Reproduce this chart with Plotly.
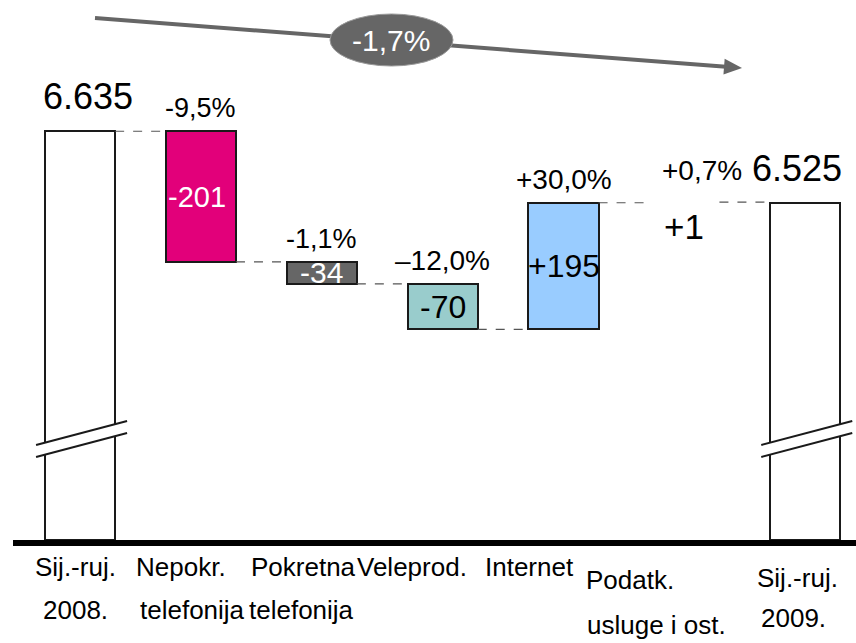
import plotly.graph_objects as go

# ---------------- data ----------------
label_line1 = ["Sij.-ruj.", "Nepokr.", "Pokretna", "Veleprod.", "Internet", "Podatk.", "Sij.-ruj."]
label_line2 = ["2008.", "telefonija", "telefonija", "", "", "usluge i ost.", "2009."]
measures = ["total", "relative", "relative", "relative", "relative", "relative", "total"]
values = [6635, -201, -34, -70, 195, 1, 6525]
value_labels = ["6.635", "-201", "-34", "-70", "+195", "+1", "6.525"]
pct_labels = ["", "-9,5%", "-1,1%", "\u201312,0%", "+30,0%", "+0,7%", ""]
total_change_label = "-1,7%"

# ---------------- style ----------------
FONT = "Liberation Sans, Arial, sans-serif"
bar_colors = ["#FFFFFF", "#E2007A", "#666666", "#99CCCC", "#99CCFF", "rgba(0,0,0,0)", "#FFFFFF"]
bar_line_w = [2, 2, 2, 2, 2, 0, 2]
value_text_colors = ["black", "white", "white", "black", "black", "black", "black"]
value_sizes = [36, 29, 30, 32, 32, 35, 36]
value_dx = [8, -4, 0, 0, 0, 0, -8]
pct_sizes = [27, 27, 27, 28, 28, 28, 27]
W, H = 856, 643
ML, MB = 13, 103
PW, PH = W - ML, H - MB
YMIN, YMAX = 6006, 6837
XMIN, XMAX = -0.555, 6.42
BAR_W = 0.58

def px2x(px):
    return (px - ML) / PW

def px2y(py):
    return 1 - py / PH

# ---------------- compute waterfall ----------------
xs = list(range(len(values)))
bases, heights, levels_after = [], [], []
level = 0
for m, v in zip(measures, values):
    if m == "total":
        bases.append(YMIN)
        heights.append(v - YMIN)
        level = v
    else:
        bases.append(min(level, level + v))
        heights.append(abs(v))
        level = level + v
    levels_after.append(level)

fig = go.Figure()
fig.add_trace(go.Bar(
    x=xs, y=heights, base=bases, width=BAR_W,
    marker=dict(color=bar_colors, line=dict(color="#1a1a1a", width=bar_line_w)),
    hoverinfo="skip", showlegend=False,
))

# connectors
for i in range(len(values) - 1):
    lv = levels_after[i]
    fig.add_trace(go.Scatter(
        x=[xs[i] + BAR_W / 2, xs[i + 1] - BAR_W / 2], y=[lv, lv],
        mode="lines", line=dict(color="#555555", width=1.2, dash="dash"),
        hoverinfo="skip", showlegend=False,
    ))

annotations = []
for i, (m, v) in enumerate(zip(measures, values)):
    top = bases[i] + heights[i]
    if m == "total":
        annotations.append(dict(x=xs[i], y=top, xref="x", yref="y", text=value_labels[i],
                                showarrow=False, xanchor="center", yanchor="bottom", yshift=12,
                                xshift=value_dx[i],
                                font=dict(size=value_sizes[i], color="black", family=FONT)))
    else:
        if abs(v) > 5:
            annotations.append(dict(x=xs[i], y=bases[i] + heights[i] / 2, xref="x", yref="y",
                                    text=value_labels[i], showarrow=False, xanchor="center", yanchor="middle",
                                    xshift=value_dx[i],
                                    font=dict(size=value_sizes[i], color=value_text_colors[i], family=FONT)))
            annotations.append(dict(x=xs[i], y=top, xref="x", yref="y", text=pct_labels[i],
                                    showarrow=False, xanchor="center", yanchor="bottom", yshift=6,
                                    font=dict(size=pct_sizes[i], color="black", family=FONT)))
        else:
            annotations.append(dict(x=xs[i], y=bases[i], xref="x", yref="y",
                                    text=value_labels[i], showarrow=False, xanchor="center", yanchor="top",
                                    yshift=-2,
                                    font=dict(size=value_sizes[i], color="black", family=FONT)))
            annotations.append(dict(x=xs[i], y=top, xref="x", yref="y", text=pct_labels[i],
                                    showarrow=False, xanchor="center", yanchor="bottom", yshift=14, xshift=18,
                                    font=dict(size=pct_sizes[i], color="black", family=FONT)))

# category labels (two lines)
dx1 = [-5, -20, -18, -31, -34, -54, -8]
dx2 = [-5, -8, -20, 0, 0, -28, -12]
y1 = [567, 567, 567, 567, 567, 580, 578]
y2 = [610, 610, 610, 610, 610, 625, 618]
for i in xs:
    annotations.append(dict(x=xs[i], y=px2y(y1[i]), xref="x", yref="paper", text=label_line1[i],
                            showarrow=False, xanchor="center", yanchor="middle", xshift=dx1[i],
                            font=dict(size=26, color="black", family=FONT)))
    if label_line2[i]:
        annotations.append(dict(x=xs[i], y=px2y(y2[i]), xref="x", yref="paper", text=label_line2[i],
                                showarrow=False, xanchor="center", yanchor="middle", xshift=dx2[i],
                                font=dict(size=26, color="black", family=FONT)))

# total change label in ellipse
annotations.append(dict(x=px2x(391), y=px2y(40), xref="paper", yref="paper", text=total_change_label,
                        showarrow=False, xanchor="center", yanchor="middle",
                        font=dict(size=30, color="white", family=FONT)))

shapes = []
# break marks on total bars
for i, m in enumerate(measures):
    if m != "total":
        continue
    L, R = xs[i] - 0.364, xs[i] + 0.389
    a_l, a_r = px2y(445), px2y(421)
    b_l, b_r = px2y(457), px2y(433)
    shapes.append(dict(type="path", xref="x", yref="paper",
                       path=f"M {L},{a_l} L {R},{a_r} L {R},{b_r} L {L},{b_l} Z",
                       fillcolor="white", line=dict(width=0), layer="above"))
    shapes.append(dict(type="line", xref="x", yref="paper", x0=L, y0=a_l, x1=R, y1=a_r,
                       line=dict(color="#1a1a1a", width=2), layer="above"))
    shapes.append(dict(type="line", xref="x", yref="paper", x0=L, y0=b_l, x1=R, y1=b_r,
                       line=dict(color="#1a1a1a", width=2), layer="above"))

# trend arrow
x0p, y0p, tipx, tipy = 95, 18, 742, 68
dxp, dyp = tipx - x0p, tipy - y0p
ln = (dxp ** 2 + dyp ** 2) ** 0.5
ux, uy = dxp / ln, dyp / ln
bx, by = tipx - 18 * ux, tipy - 18 * uy
nx, ny = -uy * 8, ux * 8
shapes.append(dict(type="line", xref="paper", yref="paper", x0=px2x(x0p), y0=px2y(y0p),
                   x1=px2x(bx + 2 * ux), y1=px2y(by + 2 * uy), line=dict(color="#666666", width=4), layer="above"))
shapes.append(dict(type="path", xref="paper", yref="paper",
                   path=f"M {px2x(tipx)},{px2y(tipy)} L {px2x(bx + nx)},{px2y(by + ny)} L {px2x(bx - nx)},{px2y(by - ny)} Z",
                   fillcolor="#666666", line=dict(width=0), layer="above"))
shapes.append(dict(type="circle", xref="paper", yref="paper", x0=px2x(330), x1=px2x(453),
                   y0=px2y(66), y1=px2y(14), fillcolor="#666666", line=dict(color="#999999", width=1),
                   layer="above"))

fig.update_layout(
    width=W, height=H,
    margin=dict(l=ML, r=0, t=0, b=MB, pad=0),
    plot_bgcolor="white", paper_bgcolor="white",
    xaxis=dict(range=[XMIN, XMAX], showgrid=False, zeroline=False, showticklabels=False,
               ticks="", showline=True, linecolor="black", linewidth=6, fixedrange=True),
    yaxis=dict(range=[YMIN, YMAX], showgrid=False, zeroline=False, showticklabels=False,
               ticks="", showline=False, fixedrange=True),
    annotations=annotations, shapes=shapes,
    bargap=0, showlegend=False,
    font=dict(family=FONT),
)

fig.write_html("out.html", config={"displayModeBar": False},
               post_script="document.body.style.margin='0';")
